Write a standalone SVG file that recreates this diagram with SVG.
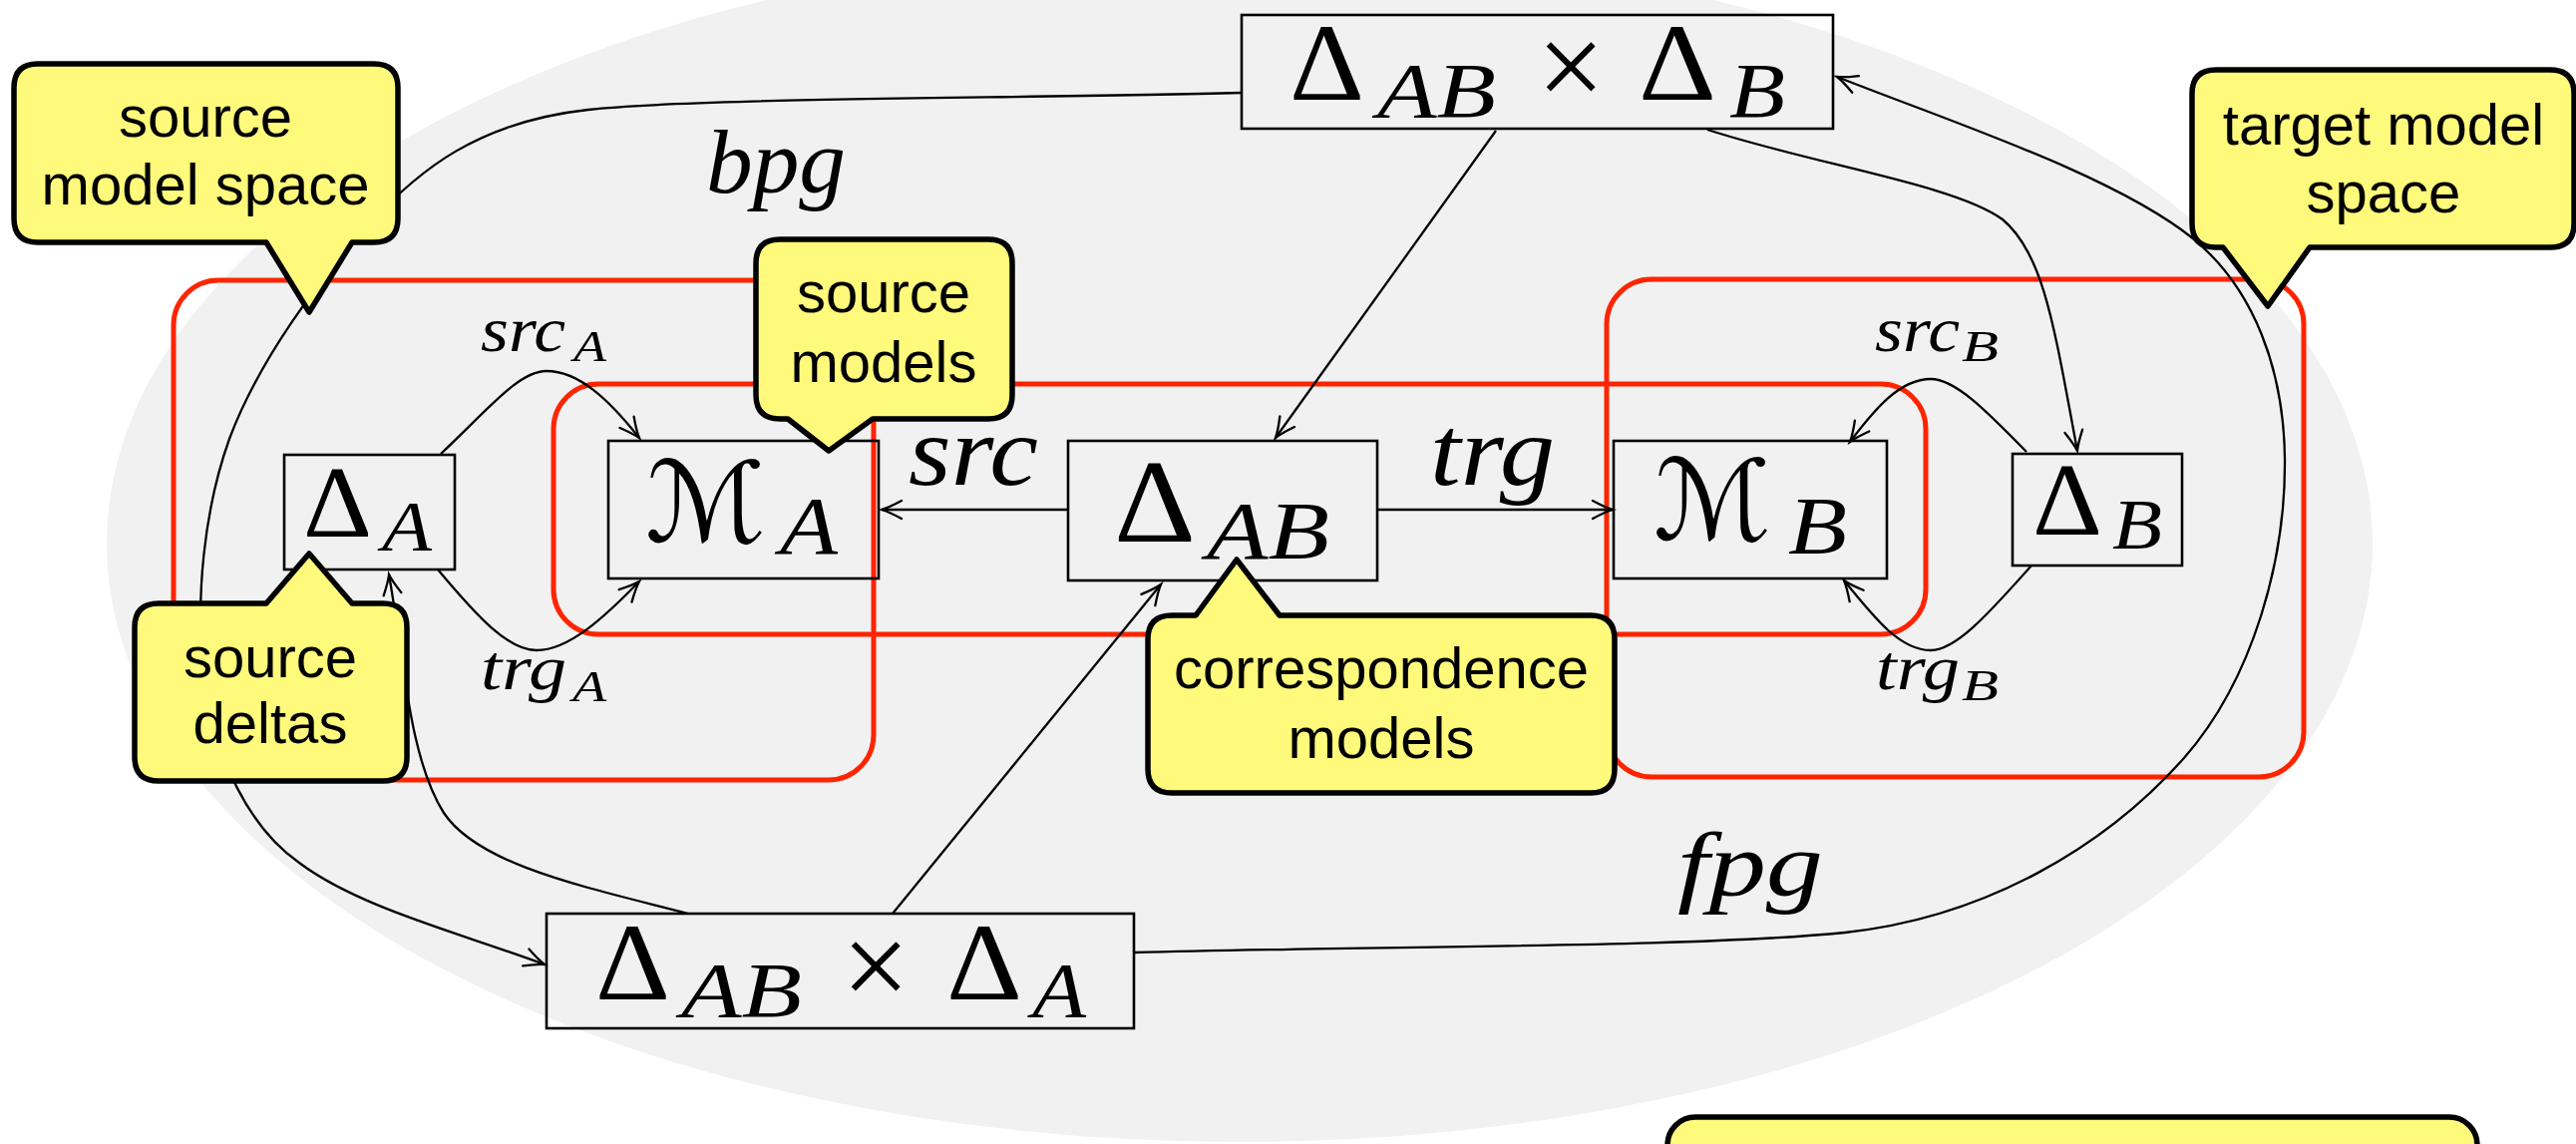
<svg xmlns="http://www.w3.org/2000/svg" width="2583" height="1147" viewBox="0 0 2583 1147">
<style>
.red{fill:none;stroke:#ff2400;stroke-width:5}
.box{fill:none;stroke:#000;stroke-width:2.6}
.con{fill:none;stroke:#000;stroke-width:2.3}
.call{fill:#fffa7c;stroke:#000;stroke-width:5.5;stroke-linejoin:round}
.ct{font-family:"Liberation Sans",Arial,sans-serif;font-size:58px;text-anchor:middle;fill:#000}
.it{font-family:"Liberation Serif","Times New Roman",serif;font-style:italic;fill:#000}
.up{font-family:"Liberation Serif","Times New Roman",serif;fill:#000}
.times{font-family:"Liberation Serif","Times New Roman",serif;fill:#000;font-size:120px;text-anchor:middle}
.cal{font-family:"DejaVu Sans","Noto Sans",sans-serif;fill:#000}
</style>
<defs>
<marker id="ah" viewBox="-24 -12 28 24" refX="0" refY="0" markerWidth="28" markerHeight="24" orient="auto" markerUnits="userSpaceOnUse">
<path d="M-20,-9 Q-7,-2 0,0 Q-7,2 -20,9" fill="none" stroke="#000" stroke-width="2.3" stroke-linecap="round"/>
</marker>
</defs>
<ellipse id="space" cx="1243" cy="545" rx="1136" ry="600" fill="#f0f1f0"/>
<g id="regions">
<rect id="source-model-space" class="red" x="174" y="281" width="702" height="501" rx="45"/>
<rect id="target-model-space" class="red" x="1611" y="280" width="699" height="499" rx="45"/>
<rect id="models" class="red" x="555" y="385" width="1376" height="251" rx="45"/>
</g>
<g id="connectors">
<path id="bpg" class="con" marker-end="url(#ah)" d="M1245,93 C1000,99 700,98 590,110 C480,122 420,170 370,225 C320,280 260,360 230,440 C205,510 195,600 205,680 C215,760 250,830 300,865 C360,910 460,935 546,967"/>
<path id="fpg" class="con" marker-end="url(#ah)" d="M1137,955 C1400,948 1700,950 1850,935 C1990,920 2110,850 2190,760 C2260,680 2292,560 2291,460 C2290,370 2260,290 2200,240 C2120,175 1950,120 1842,77"/>
<path id="topB-to-dAB" class="con" marker-end="url(#ah)" d="M1500,131 L1279,439"/>
<path id="topB-to-dB" class="con" marker-end="url(#ah)" d="M1712,130 C1820,165 1960,185 2008,220 C2050,255 2060,330 2083,452"/>
<path id="botA-to-dAB" class="con" marker-end="url(#ah)" d="M895,916 L1164,586"/>
<path id="botA-to-dA" class="con" marker-end="url(#ah)" d="M690,916 C590,890 480,868 445,815 C410,760 405,660 390,576"/>
<path id="src" class="con" marker-end="url(#ah)" d="M1070,511 L884,511"/>
<path id="trg" class="con" marker-end="url(#ah)" d="M1381,511 L1617,511"/>
<path id="srcA" class="con" marker-end="url(#ah)" d="M442,455 C490,410 520,372 548,372 C580,372 610,400 641,439"/>
<path id="trgA" class="con" marker-end="url(#ah)" d="M439,571 C480,620 510,652 538,652 C570,652 605,620 641,583"/>
<path id="srcB" class="con" marker-end="url(#ah)" d="M2032,453 C1990,410 1960,380 1936,380 C1905,380 1880,410 1855,443"/>
<path id="trgB" class="con" marker-end="url(#ah)" d="M2037,567 C1990,620 1960,652 1936,652 C1905,652 1880,620 1849,582"/>
</g>
<g id="labels">
<text class="it" x="708" y="193" font-size="92" textLength="140" lengthAdjust="spacingAndGlyphs">bpg</text>
<text class="it" x="1682" y="898" font-size="92" textLength="146" lengthAdjust="spacingAndGlyphs">fpg</text>
<text class="it" x="911" y="486" font-size="100" textLength="130" lengthAdjust="spacingAndGlyphs">src</text>
<text class="it" x="1434" y="486" font-size="100" textLength="125" lengthAdjust="spacingAndGlyphs">trg</text>
<text class="it"><tspan x="482" y="352" font-size="64" textLength="85" lengthAdjust="spacingAndGlyphs">src</tspan><tspan x="575" y="362" font-size="45" textLength="33" lengthAdjust="spacingAndGlyphs">A</tspan></text>
<text class="it"><tspan x="482" y="691" font-size="64" textLength="86" lengthAdjust="spacingAndGlyphs">trg</tspan><tspan x="574" y="703" font-size="45" textLength="34" lengthAdjust="spacingAndGlyphs">A</tspan></text>
<text class="it"><tspan x="1880" y="352" font-size="64" textLength="85" lengthAdjust="spacingAndGlyphs">src</tspan><tspan x="1967" y="362" font-size="45" textLength="37" lengthAdjust="spacingAndGlyphs">B</tspan></text>
<text class="it"><tspan x="1881" y="691" font-size="64" textLength="84" lengthAdjust="spacingAndGlyphs">trg</tspan><tspan x="1967" y="702" font-size="45" textLength="37" lengthAdjust="spacingAndGlyphs">B</tspan></text>
</g>
<g id="node-dAB-x-dB">
<rect class="box" x="1245" y="15" width="593" height="114"/>
<text><tspan class="up" x="1293" y="100" font-size="110" textLength="75" lengthAdjust="spacingAndGlyphs">Δ</tspan><tspan class="it" x="1381" y="117" font-size="79" textLength="119" lengthAdjust="spacingAndGlyphs">AB</tspan></text>
<text class="times" x="1575" y="107">×</text>
<text><tspan class="up" x="1643" y="100" font-size="110" textLength="78" lengthAdjust="spacingAndGlyphs">Δ</tspan><tspan class="it" x="1734" y="117" font-size="79" textLength="56" lengthAdjust="spacingAndGlyphs">B</tspan></text>
</g>
<g id="node-dAB-x-dA">
<rect class="box" x="548" y="916" width="589" height="115"/>
<text><tspan class="up" x="597" y="1002" font-size="110" textLength="75" lengthAdjust="spacingAndGlyphs">Δ</tspan><tspan class="it" x="683" y="1019" font-size="79" textLength="121" lengthAdjust="spacingAndGlyphs">AB</tspan></text>
<text class="times" x="878" y="1009">×</text>
<text><tspan class="up" x="949" y="1002" font-size="110" textLength="76" lengthAdjust="spacingAndGlyphs">Δ</tspan><tspan class="it" x="1035" y="1019" font-size="79" textLength="54" lengthAdjust="spacingAndGlyphs">A</tspan></text>
</g>
<g id="node-dA">
<rect class="box" x="285" y="456" width="171" height="115"/>
<text><tspan class="up" x="304" y="538" font-size="101" textLength="69" lengthAdjust="spacingAndGlyphs">Δ</tspan><tspan class="it" x="383" y="552" font-size="71" textLength="50" lengthAdjust="spacingAndGlyphs">A</tspan></text>
</g>
<g id="node-MA">
<rect class="box" x="610" y="442" width="271" height="138"/>
<text><tspan class="cal" x="647" y="543" font-size="112" textLength="121" lengthAdjust="spacingAndGlyphs">ℳ</tspan><tspan class="it" x="782" y="555" font-size="83" textLength="58" lengthAdjust="spacingAndGlyphs">A</tspan></text>
</g>
<g id="node-dAB">
<rect class="box" x="1071" y="442" width="310" height="140"/>
<text><tspan class="up" x="1117" y="543" font-size="119" textLength="82" lengthAdjust="spacingAndGlyphs">Δ</tspan><tspan class="it" x="1210" y="560" font-size="83" textLength="123" lengthAdjust="spacingAndGlyphs">AB</tspan></text>
</g>
<g id="node-MB">
<rect class="box" x="1618" y="442" width="274" height="138"/>
<text><tspan class="cal" x="1658" y="541" font-size="112" textLength="118" lengthAdjust="spacingAndGlyphs">ℳ</tspan><tspan class="it" x="1793" y="555" font-size="83" textLength="59" lengthAdjust="spacingAndGlyphs">B</tspan></text>
</g>
<g id="node-dB">
<rect class="box" x="2018" y="455" width="170" height="112"/>
<text><tspan class="up" x="2038" y="536" font-size="104" textLength="70" lengthAdjust="spacingAndGlyphs">Δ</tspan><tspan class="it" x="2118" y="550" font-size="72" textLength="50" lengthAdjust="spacingAndGlyphs">B</tspan></text>
</g>
<g id="callout-source-model-space">
<path class="call" d="M38,64 H375 Q399,64 399,88 V219 Q399,243 375,243 H353 L310,313 L267,243 H38 Q14,243 14,219 V88 Q14,64 38,64 Z"/>
<text class="ct" x="206" y="137">source</text>
<text class="ct" x="206" y="205">model space</text>
</g>
<g id="callout-source-models">
<path class="call" d="M782,240 H991 Q1015,240 1015,264 V396 Q1015,420 991,420 H875 L831,452 L790,420 H782 Q758,420 758,396 V264 Q758,240 782,240 Z"/>
<text class="ct" x="886" y="313">source</text>
<text class="ct" x="886" y="383">models</text>
</g>
<g id="callout-source-deltas">
<path class="call" d="M159,605 H267 L310,555 L353,605 H384 Q408,605 408,629 V759 Q408,783 384,783 H159 Q135,783 135,759 V629 Q135,605 159,605 Z"/>
<text class="ct" x="271" y="679">source</text>
<text class="ct" x="271" y="745">deltas</text>
</g>
<g id="callout-correspondence-models">
<path class="call" d="M1175,617 H1199 L1240,561 L1283,617 H1595 Q1619,617 1619,641 V771 Q1619,795 1595,795 H1175 Q1151,795 1151,771 V641 Q1151,617 1175,617 Z"/>
<text class="ct" x="1385" y="690">correspondence</text>
<text class="ct" x="1385" y="760">models</text>
</g>
<g id="callout-target-model-space">
<path class="call" d="M2222,70 H2557 Q2581,70 2581,94 V224 Q2581,248 2557,248 H2316 L2274,307 L2229,248 H2222 Q2198,248 2198,224 V94 Q2198,70 2222,70 Z"/>
<text class="ct" x="2390" y="145">target model</text>
<text class="ct" x="2390" y="213">space</text>
</g>
<g id="callout-bottom">
<rect class="call" x="1672" y="1120" width="812" height="120" rx="28"/>
</g>
</svg>
